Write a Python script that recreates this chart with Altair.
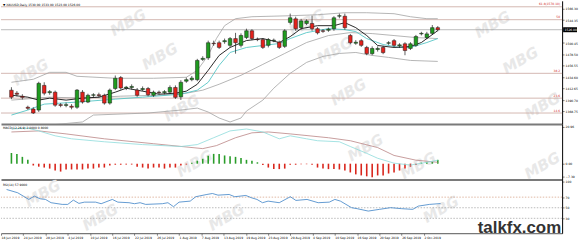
import altair as alt
import pandas as pd

# ---------------- data ----------------
bar_index = list(range(79))

opens = [1409.8, 1404, 1398, 1377, 1373.5, 1371.6, 1419, 1405, 1406, 1382,
         1380.5, 1379, 1377, 1406, 1387, 1400, 1401, 1400, 1385, 1413,
         1434, 1414, 1415, 1410, 1411, 1413, 1400, 1406, 1405, 1406,
         1415, 1397, 1427, 1430, 1430, 1469, 1472, 1500, 1501, 1503,
         1496, 1509, 1496, 1511, 1524, 1508, 1507, 1496, 1505, 1502,
         1494, 1540, 1547, 1530, 1538, 1538, 1528, 1524, 1525, 1528,
         1552, 1552, 1515, 1500, 1505, 1492, 1480, 1488, 1492, 1500,
         1505, 1495, 1499, 1490, 1496, 1518, 1511, 1519, 1530]
highs = [1415.5, 1408, 1402, 1380, 1377, 1426, 1425, 1410, 1409, 1385,
         1386, 1383, 1412, 1410, 1403, 1404, 1405, 1403, 1413, 1438,
         1437, 1418, 1421, 1414, 1417, 1416, 1409, 1409, 1410, 1419,
         1419, 1429, 1434, 1437, 1470, 1475, 1505, 1505, 1505, 1509,
         1512, 1520, 1519, 1528, 1527, 1511, 1510, 1510, 1509, 1505,
         1527, 1557, 1551, 1547, 1546, 1553, 1531, 1527, 1530, 1552,
         1557, 1557, 1518, 1506, 1508, 1495, 1494, 1494, 1495, 1504,
         1508, 1500, 1502, 1502, 1516, 1522, 1522, 1535, 1533]
lows = [1392.6, 1398, 1392, 1372, 1364, 1368, 1400, 1401, 1378, 1377,
        1377, 1373, 1374, 1384, 1385, 1396, 1396, 1382, 1382, 1410,
        1411, 1410, 1411, 1397, 1408, 1398, 1397, 1402, 1402, 1403,
        1393, 1391, 1424, 1427, 1427, 1466, 1468, 1495, 1489, 1499,
        1492, 1480, 1492, 1508, 1506, 1504, 1489, 1492, 1502, 1489,
        1491, 1536, 1524, 1526, 1535, 1524, 1517, 1520, 1522, 1524,
        1548, 1526, 1498, 1497, 1493, 1477, 1477, 1484, 1479, 1497,
        1493, 1491, 1477, 1487, 1493, 1515, 1508, 1516, 1523]
closes = [1396.4, 1402, 1396, 1375, 1366, 1423, 1404, 1407, 1381, 1380.5,
          1382, 1377, 1410, 1387, 1400, 1401, 1399.5, 1385, 1410, 1432.7,
          1414, 1415.5, 1417, 1400, 1413, 1401, 1406, 1405, 1407, 1415,
          1396, 1425, 1430, 1433, 1467, 1471, 1501, 1499, 1492, 1505,
          1509, 1501, 1515, 1524, 1509, 1507, 1492, 1507, 1506, 1492,
          1524, 1549, 1528, 1543, 1543, 1528, 1520, 1523, 1527, 1549,
          1553, 1530, 1501, 1502, 1496, 1480, 1490, 1490, 1482, 1501,
          1496, 1497, 1486, 1499, 1513, 1519, 1518, 1530, 1526]

bb_upper_i = [0, 4, 7, 10, 12, 19, 26, 32, 34, 36, 37.5, 39, 41, 44, 51, 56, 61, 65, 70, 73, 76, 78]
bb_upper_v = [1425.0, 1430.8, 1444.1, 1444.1, 1436.5, 1432.7, 1432.7, 1434.6, 1447.9, 1476.6, 1509.0,
              1533.8, 1547.2, 1551.0, 1552.9, 1554.8, 1558.7, 1558.7, 1556.8, 1551.0, 1547.2, 1547.2]
bb_mid_i = [0, 7, 13, 20, 27, 32, 35, 38, 42, 46, 50, 54, 58, 62, 66, 70, 74, 78]
bb_mid_v = [1390.7, 1396.4, 1394.5, 1398.3, 1400.2, 1404.0, 1409.8, 1421.2, 1438.4, 1459.4, 1480.4,
            1501.4, 1514.8, 1520.5, 1518.6, 1514.8, 1510.9, 1509.0]
bb_low_i = [0, 13, 15, 25, 31, 34, 36, 38, 40, 42, 43, 46, 48, 51, 54, 57, 60, 63, 66, 69, 73, 78]
bb_low_v = [1336.0, 1348.7, 1362.0, 1365.9, 1371.6, 1375.4, 1367.8, 1356.3, 1348.7, 1356.3, 1369.7,
            1390.7, 1413.6, 1442.2, 1463.2, 1474.7, 1480.4, 1482.3, 1476.6, 1472.8, 1467.0, 1465.1]
ma_fast_i = [0, 3, 5, 7, 10, 13, 16, 19, 21, 24, 27, 30, 32, 34, 36, 38, 40, 43, 46, 49, 51, 53,
             56, 59, 61, 63, 65, 67, 70, 73, 75, 78]
ma_fast_v = [1400.2, 1396.4, 1390.7, 1394.5, 1390.7, 1394.5, 1396.4, 1406.0, 1413.6, 1407.9, 1402.1,
             1404.0, 1407.9, 1421.2, 1448.0, 1476.6, 1491.9, 1505.2, 1509.0, 1501.4, 1512.8, 1528.1,
             1533.8, 1533.8, 1539.6, 1530.0, 1514.8, 1495.7, 1491.9, 1493.8, 1501.4, 1524.3]
ma_slow_i = [0, 3, 6, 12, 19, 24, 31, 34, 36, 38, 40, 43, 46, 49, 51, 54, 58, 61, 63, 65, 68, 71, 73, 76, 78]
ma_slow_v = [1362.0, 1371.6, 1383.0, 1386.9, 1392.6, 1396.4, 1402.1, 1409.8, 1425.0, 1457.5, 1482.3,
             1491.9, 1495.7, 1499.5, 1509.0, 1520.5, 1528.1, 1526.2, 1522.4, 1509.0, 1497.6, 1491.9,
             1491.9, 1501.4, 1509.0]

fib_prices = [1570.1, 1545.3, 1442.2, 1394.5, 1365.9]
fib_labels = ["61.8(1570.10)", "50", "38.2", "23.6", "14.6"]
price_ticks = [1566.30, 1544.35, 1500.45, 1478.50, 1456.55, 1434.60, 1412.65, 1390.70, 1368.75]

macd_hist = [6.1, 5.6, 3.9, 2.2, -1.1, -1.7, -2.2, -2.8, -3.9, -4.5,
             -3.3, -3.3, -3.3, -3.3, -2.8, -2.8, -2.2, -2.2, -1.1, -0.6,
             -0.6, -0.5, -0.5, -1.7, -2.2, -2.8, -2.2, -2.2, -2.8, -2.2,
             -2.2, -1.1, -0.5, 0.6, 1.7, 2.8, 4.5, 5.6, 5.6, 4.7,
             4.2, 3.9, 3.3, 2.2, 1.7, 0.8, -0.8, -2.2, -3.1, -3.1,
             -2.8, -0.6, -0.6, -0.3, -0.3, -0.6, -2.2, -2.8, -3.1, -3.1,
             -3.3, -3.9, -5.0, -6.1, -6.7, -7.2, -7.8, -6.7, -6.7, -5.6,
             -5.0, -3.9, -2.8, -1.7, -0.8, 0.6, 0.8, 1.1, 2.2]
macd_i = [0, 3, 5, 8, 11, 17, 24, 31, 34, 37, 40, 43, 46, 49, 51, 54, 56, 60, 62, 65, 67, 70, 73, 76, 78]
macd_v = [19.8, 20.3, 18.7, 15.9, 14.2, 12.5, 10.9, 9.8, 10.9, 14.8, 18.7, 19.8, 18.1, 14.2, 15.9,
          14.2, 13.1, 12.5, 9.8, 5.9, 3.1, 0.3, -0.8, 0.8, 2.0]
signal_i = [0, 5, 10, 17, 26, 35, 37.5, 41, 44, 47, 51, 58, 62, 67, 70, 74, 78]
signal_v = [18.1, 18.7, 17.0, 14.2, 11.4, 8.6, 10.3, 14.8, 17.6, 18.1, 17.0, 14.8, 13.1, 9.2, 4.7, 2.0, 0.8]
macd_ticks = [20.96, 0.0, -7.39]

rsi_i = [0, 2, 4, 5, 6, 7, 8, 10, 11, 12, 13, 14, 16, 17, 19, 20, 22, 23, 24, 25, 28, 29, 30, 31, 33,
         34, 36, 37, 38, 40, 41, 43, 44, 45, 46, 47, 49, 51, 52, 54, 56, 58, 59, 60, 62, 63, 65, 67,
         69, 71, 73, 74, 76, 78]
rsi_v = [84.5, 78.3, 65.7, 71.9, 67.0, 65.7, 59.5, 56.3, 56.3, 64.4, 58.2, 60.6, 60.6, 57.6, 65.7,
         60.6, 59.5, 57.6, 59.5, 56.3, 57.6, 59.5, 52.0, 60.6, 62.5, 70.8, 75.1, 76.9, 73.8, 75.1,
         70.8, 73.2, 68.9, 65.7, 59.5, 62.5, 59.5, 70.8, 63.8, 65.7, 59.5, 60.6, 65.7, 62.5, 50.1,
         48.2, 43.7, 46.9, 50.1, 48.2, 46.9, 53.1, 56.3, 57.9]
rsi_levels = [70, 50, 30]
rsi_ticks = [100, 70, 50, 30]

date_ticks = [-1, 3, 7, 11, 15, 19, 23, 27, 31, 35, 39, 43, 47, 51, 55, 59, 63, 67, 71, 75]
date_labels = ["18 Jun 2019", "24 Jun 2019", "28 Jun 2019", "4 Jul 2019", "10 Jul 2019",
               "16 Jul 2019", "22 Jul 2019", "26 Jul 2019", "1 Aug 2019", "7 Aug 2019",
               "13 Aug 2019", "19 Aug 2019", "23 Aug 2019", "29 Aug 2019", "4 Sep 2019",
               "10 Sep 2019", "16 Sep 2019", "20 Sep 2019", "26 Sep 2019", "2 Oct 2019"]

price_title = "\u25BC XAUUSD,Daily  {:.2f} {:.2f} {:.2f} {:.2f}".format(opens[-1], highs[-1], lows[-1], closes[-1])
macd_title = "MACD(12,26,9) {:.4f} {:.4f}".format(macd_v[-1], signal_v[-1])
rsi_title = "RSI(14) {:.4f}".format(rsi_v[-1])

# ---------------- layout / style ----------------
W = 565
H_PRICE, H_MACD, H_RSI = 124, 56, 54
XDOM = [-1, 99.84]
FONT = "DejaVu Sans"
GREEN, RED = "#1f9a1f", "#e3211c"
SMALL = 3

WM_PRICE = [(128, 22), (160, 56), (308, 22), (336, 50), (495, 24), (523, 60), (350, 92),
            (182, 108), (545, 106), (30, 72)]
WM_MACD = [(367, 24), (195, 40), (420, 42), (545, 42)]
WM_RSI = [(42, 14), (443, 30), (227, 38), (100, 38)]

xscale = alt.Scale(domain=XDOM, nice=False, zero=False)
sep_axis = alt.Axis(orient="bottom", labels=False, ticks=False, grid=False,
                    domainColor="#7a7a7a", domainWidth=2, title=None)
labels_js = "[" + ",".join("'" + d + "'" for d in date_labels) + "]"
date_axis = alt.Axis(orient="bottom", values=date_ticks,
                     labelExpr=labels_js + "[round((datum.value + 1) / 4)]",
                     labelFontSize=SMALL, labelFont=FONT, labelColor="#000", labelAlign="left",
                     labelPadding=1, labelOverlap=False, labelFlush=False, tickSize=2,
                     tickColor="#000", tickWidth=0.5, domainColor="#555", domainWidth=1,
                     grid=False, title=None)


def xe(axis):
    return alt.X("i:Q", scale=xscale, axis=axis, title=None)


def yaxis(values, fmt):
    return alt.Axis(orient="right", values=values, format=fmt, labelFontSize=SMALL, labelFont=FONT,
                    labelColor="#000", labelPadding=1, tickSize=2, tickColor="#000", tickWidth=0.5,
                    domainColor="#000", domainWidth=1, grid=False, title=None,
                    labelOverlap=False, labelFlush=False)


def ye(field, scale, axis):
    return alt.Y(field + ":Q", scale=scale, axis=axis, title=None)


def watermarks(pos):
    out = []
    for (px, py) in pos:
        out.append(alt.Chart(pd.DataFrame({"t": ["MBG"]})).mark_text(
            fontSize=15, fontWeight="bold", fontStyle="italic", font=FONT, color="#e8e8e8",
            angle=330, align="center", baseline="middle", clip=True).encode(
            x=alt.value(px), y=alt.value(py), text="t:N"))
    return out


def label(text, x, y, **kw):
    return alt.Chart(pd.DataFrame({"t": [text]})).mark_text(
        align="left", baseline="middle", fontSize=SMALL, font=FONT, **kw).encode(
        x=alt.value(x), y=alt.value(y), text="t:N")


def series(idx, vals):
    return pd.DataFrame({"i": idx, "v": vals})


# ---------------- price panel ----------------
pscale = alt.Scale(domain=[1344.85, 1581.57], nice=False, zero=False)
paxis = yaxis(price_ticks, ".2f")
cdf = pd.DataFrame({"i": bar_index, "o": opens, "h": highs, "l": lows, "c": closes})
cdf["dir"] = ["up" if c >= o else "down" for o, c in zip(opens, closes)]
fib_df = pd.DataFrame({"v": fib_prices, "label": fib_labels})
bid_df = pd.DataFrame({"v": [closes[-1]], "label": ["{:.2f}".format(closes[-1])]})

price_layers = watermarks(WM_PRICE) + [
    alt.Chart(fib_df).mark_rule(color="#c9a59e", strokeWidth=0.8).encode(y=ye("v", pscale, paxis)),
    alt.Chart(bid_df).mark_rule(color="#8a8a8a", strokeWidth=0.6).encode(y=ye("v", pscale, paxis)),
    alt.Chart(series(bb_upper_i, bb_upper_v)).mark_line(color="#a3a3a3", strokeWidth=0.8, clip=True)
    .encode(x=xe(sep_axis), y=ye("v", pscale, paxis)),
    alt.Chart(series(bb_mid_i, bb_mid_v)).mark_line(color="#a3a3a3", strokeWidth=0.8, clip=True)
    .encode(x=xe(sep_axis), y=ye("v", pscale, paxis)),
    alt.Chart(series(bb_low_i, bb_low_v)).mark_line(color="#a3a3a3", strokeWidth=0.8, clip=True)
    .encode(x=xe(sep_axis), y=ye("v", pscale, paxis)),
    alt.Chart(series(ma_slow_i, ma_slow_v)).mark_line(color="#55c6c6", strokeWidth=0.9, clip=True)
    .encode(x=xe(sep_axis), y=ye("v", pscale, paxis)),
    alt.Chart(series(ma_fast_i, ma_fast_v)).mark_line(color="#111111", strokeWidth=0.9, clip=True)
    .encode(x=xe(sep_axis), y=ye("v", pscale, paxis)),
    alt.Chart(cdf).mark_rule(color="#1a1a1a", strokeWidth=0.7)
    .encode(x=xe(sep_axis), y=ye("l", pscale, paxis), y2="h:Q"),
    alt.Chart(cdf).mark_bar(width=3.6, stroke="#1a1a1a", strokeWidth=0.5)
    .encode(x=xe(sep_axis), y=ye("o", pscale, paxis), y2="c:Q",
            color=alt.Color("dir:N", scale=alt.Scale(domain=["up", "down"], range=[GREEN, RED]),
                            legend=None)),
    alt.Chart(fib_df).mark_text(align="right", baseline="bottom", fontSize=SMALL, font=FONT,
                                color="#d02828", dy=-0.3)
    .encode(x=alt.value(563), y=ye("v", pscale, paxis), text="label:N"),
    label(price_title, 2, 4, color="#000"),
    alt.Chart(bid_df).mark_rule(color="#000", strokeWidth=5)
    .encode(x=alt.value(566), x2=alt.value(580), y=ye("v", pscale, paxis)),
    alt.Chart(bid_df).mark_text(align="left", baseline="middle", fontSize=SMALL, font=FONT, color="#fff")
    .encode(x=alt.value(567.5), y=ye("v", pscale, paxis), text="label:N"),
]
price = alt.layer(*price_layers).properties(width=W, height=H_PRICE)

# ---------------- MACD panel ----------------
mscale = alt.Scale(domain=[-9.07, 22.66], nice=False, zero=False)
maxis = yaxis(macd_ticks, ".2f")
hdf = pd.DataFrame({"i": bar_index, "v": macd_hist, "z": [0] * len(bar_index)})
hdf["sgn"] = ["pos" if v >= 0 else "neg" for v in macd_hist]
macd_layers = watermarks(WM_MACD) + [
    alt.Chart(hdf).mark_bar(width=1.6)
    .encode(x=xe(sep_axis), y=ye("v", mscale, maxis), y2="z:Q",
            color=alt.Color("sgn:N", scale=alt.Scale(domain=["pos", "neg"], range=["#2a9d2a", "#d9261c"]),
                            legend=None)),
    alt.Chart(series(signal_i, signal_v)).mark_line(color="#b98484", strokeWidth=0.8)
    .encode(x=xe(sep_axis), y=ye("v", mscale, maxis)),
    alt.Chart(series(macd_i, macd_v)).mark_line(color="#8edcdc", strokeWidth=0.8)
    .encode(x=xe(sep_axis), y=ye("v", mscale, maxis)),
    label(macd_title, 2, 4, color="#000"),
]
macd = alt.layer(*macd_layers).properties(width=W, height=H_MACD)

# ---------------- RSI panel ----------------
rscale = alt.Scale(domain=[1.83, 103.2], nice=False, zero=False)
raxis = yaxis(rsi_ticks, "d")
lev_df = pd.DataFrame({"v": rsi_levels, "k": ["hi", "mid", "lo"]})
rsi_layers = watermarks(WM_RSI) + [
    alt.Chart(lev_df).mark_rule(strokeWidth=0.7, strokeDash=[1.5, 1.5])
    .encode(y=ye("v", rscale, raxis),
            color=alt.Color("k:N", scale=alt.Scale(domain=["hi", "mid", "lo"],
                                                   range=["#d29a7c", "#9c9c9c", "#9c9c9c"]), legend=None)),
    alt.Chart(series(rsi_i, rsi_v)).mark_line(color="#3d82c6", strokeWidth=0.8)
    .encode(x=xe(date_axis), y=ye("v", rscale, raxis)),
    label(rsi_title, 2, 5, color="#000"),
    alt.Chart(pd.DataFrame({"t": ["talkfx.com"]})).mark_text(
        align="left", baseline="alphabetic", fontSize=17, fontWeight="bold",
        font="Liberation Sans", color="#333333")
    .encode(x=alt.value(480), y=alt.value(54), text="t:N"),
]
rsi = alt.layer(*rsi_layers).properties(width=W, height=H_RSI)

chart = (alt.vconcat(price, macd, rsi, spacing=0)
         .resolve_scale(y="independent", color="independent")
         .resolve_axis(x="independent", y="independent")
         .properties(padding=0, background="white")
         .configure_view(strokeOpacity=0))

chart.save("out.html", embed_options={"renderer": "svg", "actions": False})
